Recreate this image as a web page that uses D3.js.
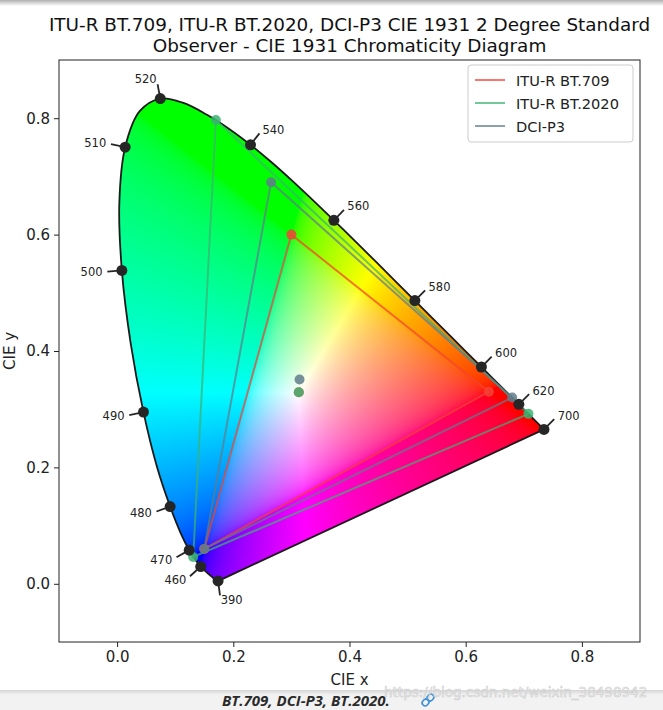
<!DOCTYPE html>
<html><head><meta charset="utf-8">
<script src="https://cdn.jsdelivr.net/npm/d3@7/dist/d3.min.js"></script>
<style>body{margin:0;background:#fff;overflow:hidden} svg{display:block}</style>
</head><body>
<script>
// ---------------- DATA ----------------
const wavelengths = [380,385,390,395,400,405,410,415,420,425,430,435,440,445,450,455,460,465,470,475,480,485,490,495,500,505,510,515,520,525,530,535,540,545,550,555,560,565,570,575,580,585,590,595,600,605,610,615,620,625,630,635,640,645,650,655,660,665,670,675,680,685,690,695,700];
const locusX = [0.17411,0.17401,0.17380,0.17356,0.17334,0.17302,0.17258,0.17209,0.17141,0.17030,0.16888,0.16690,0.16441,0.16110,0.15664,0.15099,0.14396,0.13550,0.12412,0.10959,0.09129,0.06871,0.04539,0.02346,0.00817,0.00386,0.01387,0.03885,0.07430,0.11416,0.15472,0.19288,0.22962,0.26578,0.30160,0.33736,0.37310,0.40874,0.44406,0.47877,0.51249,0.54479,0.57515,0.60293,0.62704,0.64823,0.66576,0.68008,0.69151,0.70061,0.70792,0.71403,0.71903,0.72303,0.72599,0.72827,0.72997,0.73109,0.73199,0.73272,0.73342,0.73405,0.73440,0.73459,0.73469];
const locusY = [0.00496,0.00498,0.00492,0.00492,0.00480,0.00478,0.00480,0.00483,0.00510,0.00579,0.00690,0.00856,0.01086,0.01379,0.01770,0.02274,0.02970,0.03988,0.05780,0.08684,0.13270,0.20072,0.29498,0.41270,0.53842,0.65482,0.75019,0.81202,0.83380,0.82621,0.80586,0.78163,0.75433,0.72432,0.69231,0.65885,0.62445,0.58961,0.55471,0.52020,0.48659,0.45443,0.42423,0.39650,0.37249,0.35139,0.33401,0.31975,0.30834,0.29930,0.29203,0.28593,0.28093,0.27695,0.27401,0.27173,0.27003,0.26891,0.26801,0.26728,0.26658,0.26595,0.26560,0.26541,0.26531];
const labelWavelengths = [390,460,470,480,490,500,510,520,540,560,580,600,620,700];

const spaceNames = ["ITU-R BT.709","ITU-R BT.2020","DCI-P3"];
const primariesX = [[0.640,0.300,0.150],[0.708,0.170,0.131],[0.680,0.265,0.150]];
const primariesY = [[0.330,0.600,0.060],[0.292,0.797,0.046],[0.320,0.690,0.060]];
const whiteX = [0.3127,0.3127,0.314];
const whiteY = [0.3290,0.3290,0.351];
const spaceColors = ["#f44336","#3cb371","#607d8b"];

const xTicks = [0.0,0.2,0.4,0.6,0.8];
const yTicks = [0.0,0.2,0.4,0.6,0.8];
const titleLines = ["ITU-R BT.709, ITU-R BT.2020, DCI-P3 CIE 1931 2 Degree Standard","Observer - CIE 1931 Chromaticity Diagram"];
const caption = "BT.709, DCI-P3, BT.2020.";
const watermark = "https://blog.csdn.net/weixin_38498942";

// ---------------- LAYOUT ----------------
const Wd = 663, Ht = 710;
const x = d3.scaleLinear().domain([-0.1,0.9]).range([59,640]);
const y = d3.scaleLinear().domain([-0.1,0.9]).range([642,60]);
const font = '"DejaVu Sans", sans-serif';
const dark = '#262626';

const svg = d3.select('body').append('svg').attr('width',Wd).attr('height',Ht).style('font-family',font);
const defs = svg.append('defs');

// top screenshot shade
const tg = defs.append('linearGradient').attr('id','topShade').attr('x1',0).attr('y1',0).attr('x2',0).attr('y2',1);
tg.append('stop').attr('offset','0%').attr('stop-color','#b0b0b0');
tg.append('stop').attr('offset','100%').attr('stop-color','#ffffff');
svg.append('rect').attr('x',0).attr('y',0).attr('width',Wd).attr('height',6).attr('fill','url(#topShade)');

// locus points
const locus = wavelengths.map((w,i)=>({w, x:locusX[i], y:locusY[i]}));
const line = d3.line().x(d=>x(d.x)).y(d=>y(d.y));
const curve = d3.line().x(d=>x(d.x)).y(d=>y(d.y)).curve(d3.curveCatmullRom.alpha(0.5));
const locusPath = curve(locus) + 'Z';

defs.append('clipPath').attr('id','locusClip').append('path').attr('d',locusPath);

// ---------------- COLOUR FILL ----------------
const x0 = x.range()[0], x1 = x.range()[1], yTop = y.range()[1], yBot = y.range()[0];
const cw = Math.round(x1-x0), ch = Math.round(yBot-yTop);
const cv = document.createElement('canvas'); cv.width = cw; cv.height = ch;
const ctx = cv.getContext('2d');
const img = ctx.createImageData(cw,ch);
function enc(v){ return v <= 0.0031308 ? 12.92*v : 1.055*Math.pow(v,1/2.4)-0.055; }
for (let j=0;j<ch;j++){
  const cy = y.invert(yTop+j+0.5);
  for (let i=0;i<cw;i++){
    const k = (j*cw+i)*4;
    if (cy <= 1e-4){ img.data[k+3]=0; continue; }
    const cx = x.invert(x0+i+0.5);
    const X = cx/cy, Y = 1, Z = (1-cx-cy)/cy;
    let r = enc(3.2404542*X - 1.5371385*Y - 0.4985314*Z);
    let g = enc(-0.9692660*X + 1.8760108*Y + 0.0415560*Z);
    let b = enc(0.0556434*X - 0.2040259*Y + 1.0572252*Z);
    const m = Math.max(r,g,b);
    if (m > 0){ r/=m; g/=m; b/=m; } else { r=g=b=0; }
    img.data[k]   = Math.round(255*Math.min(1,Math.max(0,r)));
    img.data[k+1] = Math.round(255*Math.min(1,Math.max(0,g)));
    img.data[k+2] = Math.round(255*Math.min(1,Math.max(0,b)));
    img.data[k+3] = 255;
  }
}
ctx.putImageData(img,0,0);
svg.append('image').attr('x',x0).attr('y',yTop).attr('width',cw).attr('height',ch)
  .attr('preserveAspectRatio','none').attr('href',cv.toDataURL()).attr('clip-path','url(#locusClip)');

// locus outline
svg.append('path').attr('d',locusPath).attr('fill','none').attr('stroke','#1a1a1a').attr('stroke-width',1.8);

// ---------------- GAMUTS ----------------
spaceNames.forEach((name,s)=>{
  const pts = primariesX[s].map((px,i)=>({x:px, y:primariesY[s][i]}));
  const gg = svg.append('g');
  gg.append('path').attr('d', line(pts.concat([pts[0]])))
    .attr('fill','none').attr('stroke',spaceColors[s]).attr('stroke-width',2).attr('stroke-opacity',0.72);
  gg.selectAll('circle.p').data(pts).join('circle').attr('class','p')
    .attr('cx',d=>x(d.x)).attr('cy',d=>y(d.y)).attr('r',5)
    .attr('fill',spaceColors[s]).attr('fill-opacity',0.85);
  gg.append('circle').attr('cx',x(whiteX[s])).attr('cy',y(whiteY[s])).attr('r',5)
    .attr('fill',spaceColors[s]).attr('fill-opacity',0.85);
});

// ---------------- WAVELENGTH LABELS ----------------
const ee = [1/3,1/3];
labelWavelengths.forEach(wl=>{
  const i = wavelengths.indexOf(wl);
  const p = locus[i];
  const a = locus[Math.max(0,i-1)], b = locus[Math.min(locus.length-1,i+1)];
  const dx = b.x-a.x, dy = b.y-a.y;
  let n = [-dy, dx];
  const v = [p.x-ee[0], p.y-ee[1]];
  if (n[0]*v[0]+n[1]*v[1] < 0) n = [dy,-dx];
  const len = Math.hypot(n[0],n[1]);
  n = [n[0]/len/30, n[1]/len/30];
  svg.append('line').attr('x1',x(p.x)).attr('y1',y(p.y))
    .attr('x2',x(p.x+n[0]*0.75)).attr('y2',y(p.y+n[1]*0.75))
    .attr('stroke',dark).attr('stroke-width',1.8);
  svg.append('circle').attr('cx',x(p.x)).attr('cy',y(p.y)).attr('r',5.5).attr('fill',dark);
  svg.append('text').attr('x',x(p.x+n[0])).attr('y',y(p.y+n[1]))
    .attr('text-anchor', n[0] >= 0 ? 'start' : 'end').attr('dominant-baseline','central')
    .attr('font-size','11.5px').attr('fill','#222').text(wl);
});

// ---------------- AXES ----------------
const fmt = d3.format('.1f');
const gx = svg.append('g').attr('transform',`translate(0,${yBot})`)
  .call(d3.axisBottom(x).tickValues(xTicks).tickFormat(fmt).tickSize(5).tickPadding(4));
const gy = svg.append('g').attr('transform',`translate(${x0},0)`)
  .call(d3.axisLeft(y).tickValues(yTicks).tickFormat(fmt).tickSize(5).tickPadding(4));
[gx,gy].forEach(g=>{
  g.select('.domain').remove();
  g.selectAll('text').attr('font-size','15px').attr('font-family',font).attr('fill','#222');
  g.selectAll('line').attr('stroke','#222');
});
svg.append('rect').attr('x',x0).attr('y',yTop).attr('width',x1-x0).attr('height',yBot-yTop)
  .attr('fill','none').attr('stroke','#222').attr('stroke-width',1);

svg.append('text').attr('x',(x0+x1)/2).attr('y',685).attr('text-anchor','middle')
  .attr('font-size','15px').attr('fill','#222').text('CIE x');
svg.append('text').attr('transform',`translate(15,${(yTop+yBot)/2}) rotate(-90)`).attr('text-anchor','middle')
  .attr('font-size','15px').attr('fill','#222').text('CIE y');

// title
svg.selectAll('text.title').data(titleLines).join('text').attr('class','title')
  .attr('x',(x0+x1)/2).attr('y',(d,i)=>31+i*21).attr('text-anchor','middle')
  .attr('font-size','18.4px').attr('fill','#111').text(d=>d);

// ---------------- LEGEND ----------------
const lg = svg.append('g');
lg.append('rect').attr('x',468).attr('y',65).attr('width',165).attr('height',77).attr('rx',3)
  .attr('fill','#fff').attr('fill-opacity',0.85).attr('stroke','#cccccc');
spaceNames.forEach((name,s)=>{
  const ly = 80 + s*23;
  lg.append('line').attr('x1',475).attr('x2',505).attr('y1',ly).attr('y2',ly)
    .attr('stroke',spaceColors[s]).attr('stroke-width',2).attr('stroke-opacity',0.72);
  lg.append('text').attr('x',516).attr('y',ly).attr('dominant-baseline','central')
    .attr('font-size','14.6px').attr('fill','#222').text(name);
});

// ---------------- PAGE CAPTION BAND ----------------
const bg = defs.append('linearGradient').attr('id','botShade').attr('x1',0).attr('y1',0).attr('x2',0).attr('y2',1);
bg.append('stop').attr('offset','0%').attr('stop-color','#d6d6d6');
bg.append('stop').attr('offset','100%').attr('stop-color','#f2f2f2');
svg.append('rect').attr('x',0).attr('y',690).attr('width',Wd).attr('height',20).attr('fill','#f2f2f2');
svg.append('rect').attr('x',0).attr('y',690).attr('width',Wd).attr('height',5).attr('fill','url(#botShade)');
svg.append('text').attr('x',222).attr('y',705.5).attr('font-family','"Open Sans", sans-serif')
  .attr('font-weight',700).attr('font-style','italic').attr('font-size','15px').attr('fill','#2b2b2b').text(caption);
const ic = svg.append('g').attr('transform','translate(428,700) rotate(45)').attr('fill','none').attr('stroke','#3d8fd6').attr('stroke-width',1.6);
ic.append('rect').attr('x',-3).attr('y',-7).attr('width',6).attr('height',7).attr('rx',3);
ic.append('rect').attr('x',-3).attr('y',0).attr('width',6).attr('height',7).attr('rx',3);
svg.append('text').attr('x',384).attr('y',697).attr('font-family','"DejaVu Sans", sans-serif')
  .attr('font-size','13.5px').attr('fill','#ececec').attr('stroke','#c4c4c4').attr('stroke-width',0.5)
  .attr('opacity',0.85).text(watermark);
</script>
</body></html>
